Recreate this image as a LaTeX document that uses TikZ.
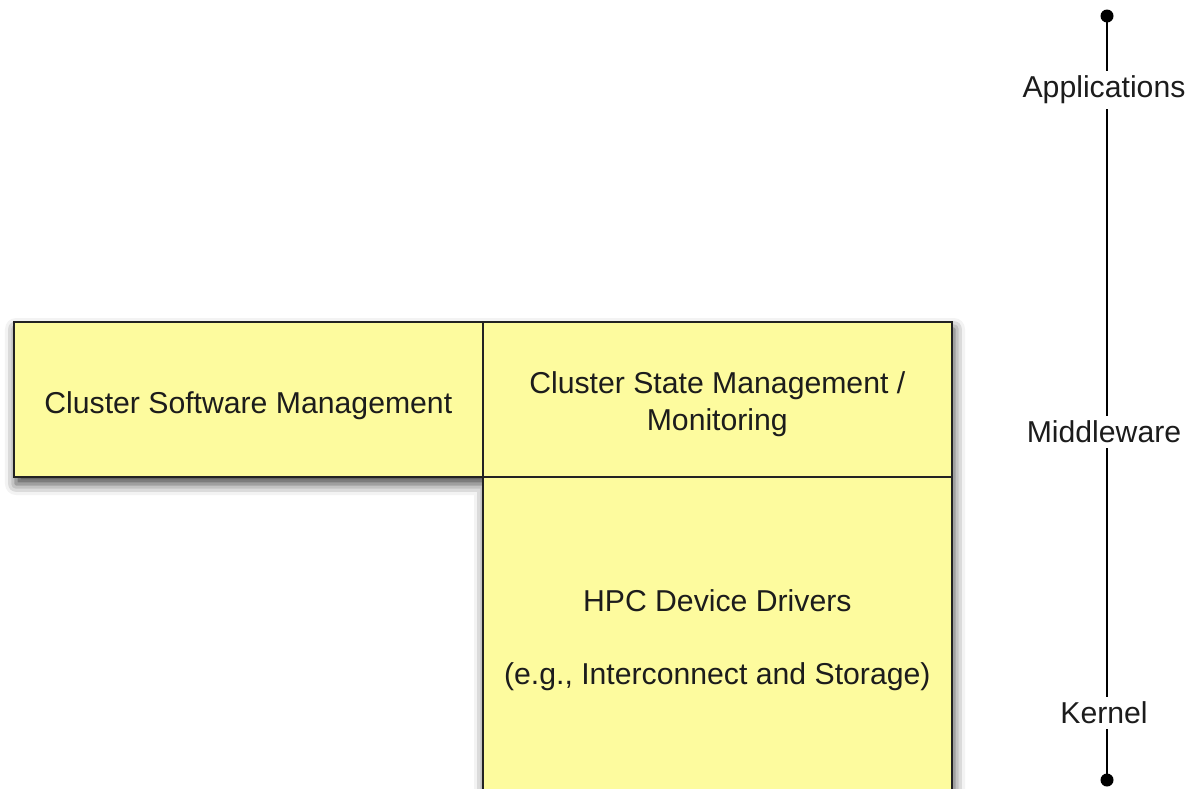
\documentclass[tikz,border=0pt]{standalone}
\usepackage{fontspec}
\setmainfont{Liberation Sans}
\usetikzlibrary{shadows.blur}
\definecolor{boxfill}{RGB}{253,251,158}
\definecolor{boxline}{RGB}{34,34,34}
\definecolor{ink}{RGB}{28,28,28}
\tikzset{
  cell/.style={draw=boxline, line width=1.6pt, fill=boxfill, inner sep=0pt},
  celltext/.style={align=center, inner sep=0pt, text=ink, font=\fontsize{30.2}{37}\selectfont},
  axislabel/.style={fill=white, inner sep=5pt, text=ink, font=\fontsize{30.2}{37}\selectfont},
  axisline/.style={line width=1.6pt, black},
  dot/.style={circle, fill=black, inner sep=0pt, minimum size=13pt}
}
\begin{document}
\begin{tikzpicture}[x=1pt,y=-1pt]
\useasboundingbox (0,0) rectangle (1188,788);
\clip (0,0) rectangle (1188,788);
% shadow of the L shape
\path[fill=boxfill, blur shadow={shadow xshift=3pt, shadow yshift=-8pt, shadow blur radius=11pt, shadow opacity=75}]
  (13,321) -- (951,321) -- (951,796) -- (482,796) -- (482,476) -- (13,476) -- cycle;
\node[cell, minimum width=469pt, minimum height=155pt, anchor=north west] (csm) at (13,321) {};
\node[cell, minimum width=469pt, minimum height=155pt, anchor=north west] (cst) at (482,321) {};
\node[cell, minimum width=469pt, minimum height=320pt, anchor=north west] (hpc) at (482,476) {};
\node[celltext] (csmt) at ([yshift=-6pt]csm.center) {Cluster Software Management};
\node[celltext] (cstt) at ([yshift=-5pt]cst.center) {Cluster State Management /\\Monitoring};
\node[celltext] (hpct) at ([yshift=-3pt]hpc.center) {HPC Device Drivers\\[36pt](e.g., Interconnect and Storage)};
% axis
\node[dot] (top) at (1107,16) {};
\node[dot] (bot) at (1107,780) {};
\node[axislabel] (app) at (1104,90) {Applications};
\node[axislabel] (mid) at (1104,432) {Middleware};
\node[axislabel] (ker) at (1104,713) {Kernel};
\draw[axisline] (top.center) -- (1107,0 |- app.north);
\draw[axisline] (1107,0 |- app.south) -- (1107,0 |- mid.north);
\draw[axisline] (1107,0 |- mid.south) -- (1107,0 |- ker.north);
\draw[axisline] (1107,0 |- ker.south) -- (bot.center);
\end{tikzpicture}
\end{document}
